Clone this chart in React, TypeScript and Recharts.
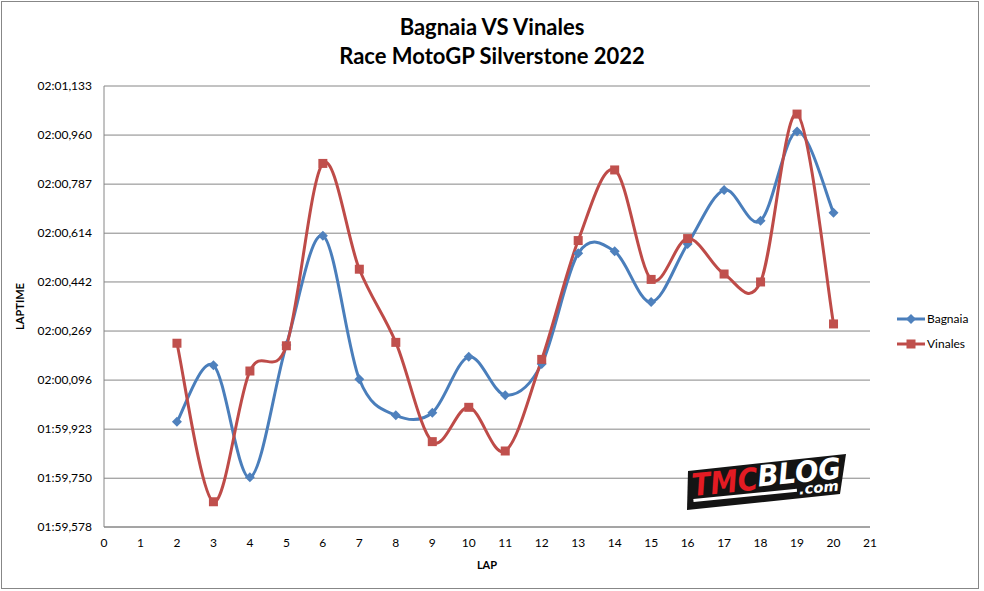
import React from "react";
import { CartesianGrid, Line, LineChart, XAxis, YAxis } from "recharts";

// Lap times in seconds (laps 2-20)
const laps = [2, 3, 4, 5, 6, 7, 8, 9, 10, 11, 12, 13, 14, 15, 16, 17, 18, 19, 20];
const bagnaia = [
  119.949, 120.148, 119.753, 120.22, 120.605, 120.099, 119.972, 119.981, 120.178, 120.043,
  120.153, 120.543, 120.55, 120.371, 120.576, 120.766, 120.658, 120.973, 120.686,
];
const vinales = [
  120.226, 119.667, 120.128, 120.217, 120.86, 120.487, 120.229, 119.879, 120.0, 119.846,
  120.169, 120.588, 120.837, 120.451, 120.595, 120.47, 120.442, 121.034, 120.294,
];
const yTicks = [119.578, 119.75, 119.923, 120.096, 120.269, 120.442, 120.614, 120.787, 120.96, 121.133];
const xTicks = [0, 1, 2, 3, 4, 5, 6, 7, 8, 9, 10, 11, 12, 13, 14, 15, 16, 17, 18, 19, 20, 21];

const data = laps.map((lap, i) => ({ lap, bagnaia: bagnaia[i], vinales: vinales[i] }));

const BLUE = "#4A7EBB";
const RED = "#BE4B48";
const GRID = "#868686";
const FONT = "Lato, 'Open Sans', sans-serif";

const pad = (n: number, w: number) => String(n).padStart(w, "0");
const fmtTime = (v: number) => {
  const ms = Math.round(v * 1000);
  return `${pad(Math.floor(ms / 60000), 2)}:${pad(Math.floor((ms % 60000) / 1000), 2)},${pad(ms % 1000, 3)}`;
};

// Excel-style smoothed line: Catmull-Rom segments as cubic beziers
const excelSmooth = (ctx: any) => {
  let pts: number[][] = [];
  return {
    areaStart() {},
    areaEnd() {},
    lineStart() {
      pts = [];
    },
    point(x: number, y: number) {
      pts.push([+x, +y]);
    },
    lineEnd() {
      if (!pts.length) return;
      ctx.moveTo(pts[0][0], pts[0][1]);
      for (let i = 0; i < pts.length - 1; i++) {
        const p0 = pts[i - 1] || pts[i];
        const p1 = pts[i];
        const p2 = pts[i + 1];
        const p3 = pts[i + 2] || p2;
        ctx.bezierCurveTo(
          p1[0] + (p2[0] - p0[0]) / 6,
          p1[1] + (p2[1] - p0[1]) / 6,
          p2[0] - (p3[0] - p1[0]) / 6,
          p2[1] - (p3[1] - p1[1]) / 6,
          p2[0],
          p2[1],
        );
      }
    },
  };
};

const Diamond = (props: any) => {
  const { cx, cy, index } = props;
  if (cx == null || cy == null) return <g key={index} />;
  const r = 5;
  return (
    <polygon
      key={index}
      points={`${cx},${cy - r} ${cx + r},${cy} ${cx},${cy + r} ${cx - r},${cy}`}
      fill="#4F81BD"
    />
  );
};

const Square = (props: any) => {
  const { cx, cy, index } = props;
  if (cx == null || cy == null) return <g key={index} />;
  const s = 9;
  return <rect key={index} x={cx - s / 2} y={cy - s / 2} width={s} height={s} fill="#C0504D" />;
};

function LegendRow({ name, color, marker }: { name: string; color: string; marker: "d" | "s" }) {
  return (
    <div style={{ display: "flex", alignItems: "center", height: 25 }}>
      <svg width={29} height={12}>
        <line x1={0} y1={6} x2={28} y2={6} stroke={color} strokeWidth={3} />
        {marker === "d" ? (
          <polygon points="14,1 19,6 14,11 9,6" fill="#4F81BD" />
        ) : (
          <rect x={9.5} y={1.5} width={9} height={9} fill="#C0504D" />
        )}
      </svg>
      <span style={{ fontSize: 12, marginLeft: 1 }}>{name}</span>
    </div>
  );
}

// watermark, drawn roughly
function Logo() {
  return (
    <svg style={{ position: "absolute", left: 684, top: 450 }} width={170} height={64}>
      <polygon points="4,21 162,4 156,44 3,60" fill="#141414" />
      <g
        transform="rotate(-5.7 9 46)"
        fontFamily="'DejaVu Sans', sans-serif"
        fontWeight={900}
        fontStyle="italic"
      >
        <text x={9} y={46} fontSize={31} fill="#E31B23" textLength={66} lengthAdjust="spacingAndGlyphs">
          TMC
        </text>
        <text x={75} y={43} fontSize={29} fill="#fff" textLength={84} lengthAdjust="spacingAndGlyphs">
          BLOG
        </text>
        <rect x={9} y={49} width={104} height={3} fill="#fff" />
        <text x={115} y={55} fontSize={14} fill="#fff" textLength={40} lengthAdjust="spacingAndGlyphs">
          .com
        </text>
      </g>
    </svg>
  );
}

export default function App() {
  return (
    <div
      style={{
        position: "absolute",
        left: 0,
        top: 0,
        width: 984,
        height: 591,
        background: "#fff",
        fontFamily: FONT,
        color: "#000",
      }}
    >
      <div
        style={{
          position: "absolute",
          left: 1,
          top: 1,
          width: 978,
          height: 588,
          border: "1px solid #878787",
          boxSizing: "border-box",
        }}
      />
      <div
        style={{
          position: "absolute",
          left: 0,
          top: 12,
          width: 984,
          textAlign: "center",
          fontWeight: 700,
          fontSize: 22,
          lineHeight: "29px",
        }}
      >
        <div>Bagnaia VS Vinales</div>
        <div>Race MotoGP Silverstone 2022</div>
      </div>
      <LineChart
        width={984}
        height={591}
        data={data}
        margin={{ top: 86, right: 114, bottom: 24, left: 0 }}
        style={{ position: "absolute", left: 0, top: 0 }}
      >
        <CartesianGrid vertical={false} stroke={GRID} />
        <XAxis
          dataKey="lap"
          type="number"
          domain={[0, 21]}
          ticks={xTicks}
          interval={0}
          height={40}
          tickSize={0}
          tickMargin={11}
          axisLine={{ stroke: GRID }}
          tick={{ fill: "#000", fontSize: 12, fontFamily: FONT }}
          label={{
            value: "LAP",
            position: "insideBottom",
            offset: -2,
            fill: "#000",
            fontSize: 11,
            fontWeight: 700,
            fontFamily: FONT,
          }}
        />
        <YAxis
          type="number"
          domain={[119.578, 121.133]}
          ticks={yTicks}
          interval={0}
          width={104}
          tickSize={0}
          tickMargin={12}
          tickFormatter={fmtTime}
          axisLine={{ stroke: GRID }}
          tick={{ fill: "#000", fontSize: 12, fontFamily: FONT }}
          label={{
            value: "LAPTIME",
            angle: -90,
            position: "insideLeft",
            offset: 20,
            style: { textAnchor: "middle" },
            fill: "#000",
            fontSize: 11,
            fontWeight: 700,
            fontFamily: FONT,
          }}
        />
        <Line
          dataKey="bagnaia"
          name="Bagnaia"
          type={excelSmooth as any}
          stroke={BLUE}
          strokeWidth={3}
          dot={Diamond}
          activeDot={false}
          isAnimationActive={false}
        />
        <Line
          dataKey="vinales"
          name="Vinales"
          type={excelSmooth as any}
          stroke={RED}
          strokeWidth={3}
          dot={Square}
          activeDot={false}
          isAnimationActive={false}
        />
      </LineChart>
      <div style={{ position: "absolute", left: 897, top: 306 }}>
        <LegendRow name="Bagnaia" color={BLUE} marker="d" />
        <LegendRow name="Vinales" color={RED} marker="s" />
      </div>
      <Logo />
    </div>
  );
}
